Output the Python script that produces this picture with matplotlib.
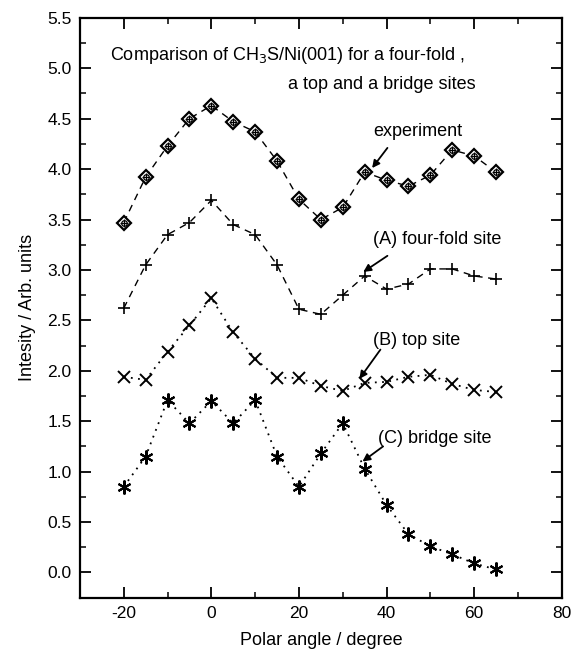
import numpy as np
import matplotlib.pyplot as plt
from matplotlib.ticker import MultipleLocator, FuncFormatter

plt.rcParams['font.family'] = ['Liberation Sans', 'DejaVu Sans']

angle = [-20, -15, -10, -5, 0, 5, 10, 15, 20, 25, 30, 35, 40, 45, 50, 55, 60, 65]
experiment = [3.47, 3.92, 4.23, 4.50, 4.63, 4.47, 4.37, 4.08, 3.70, 3.50, 3.62,
              3.97, 3.89, 3.83, 3.94, 4.19, 4.13, 3.97]
fourfold = [2.62, 3.05, 3.35, 3.47, 3.69, 3.45, 3.35, 3.05, 2.61, 2.56, 2.75,
            2.94, 2.81, 2.86, 3.01, 3.01, 2.94, 2.91]
top = [1.94, 1.91, 2.19, 2.45, 2.72, 2.38, 2.12, 1.93, 1.93, 1.85, 1.80,
       1.88, 1.89, 1.94, 1.96, 1.87, 1.81, 1.79]
bridge = [0.85, 1.15, 1.71, 1.48, 1.70, 1.48, 1.71, 1.15, 0.85, 1.18, 1.48,
          1.03, 0.67, 0.38, 0.26, 0.18, 0.09, 0.03]

fig = plt.figure(figsize=(5.75, 6.59), dpi=100)
ax = fig.add_axes([0.139, 0.093, 0.838, 0.880])

# experiment: diamond with a circled cross inside
ax.plot(angle, experiment, ls=(0, (5, 4)), color='k', lw=1.0)
ax.plot(angle, experiment, ls='none', marker='D', ms=7.5, mfc='white', mec='k', mew=1.6)
ax.plot(angle, experiment, ls='none', marker='o', ms=4, mfc='none', mec='k', mew=0.9)
ax.plot(angle, experiment, ls='none', marker='+', ms=6, mec='k', mew=0.9)
ax.plot(angle, fourfold, ls=(0, (5, 4)), color='k', lw=1.0,
        marker='+', ms=9, mec='k', mew=1.2)
ax.plot(angle, top, ls=(0, (1, 3)), color='k', lw=1.3,
        marker='x', ms=9, mec='k', mew=1.4)
ax.plot(angle, bridge, ls=(0, (1, 3)), color='k', lw=1.3,
        marker=(6, 2, 0), ms=10, mec='k', mew=1.5)

ax.set_xlim(-30, 80)
ax.set_ylim(-0.25, 5.5)
ax.xaxis.set_major_locator(MultipleLocator(20))
ax.xaxis.set_minor_locator(MultipleLocator(10))
ax.xaxis.set_major_formatter(FuncFormatter(lambda v, p: '%d' % v))
ax.yaxis.set_major_locator(MultipleLocator(0.5))
ax.yaxis.set_minor_locator(MultipleLocator(0.25))
ax.yaxis.set_major_formatter(FuncFormatter(lambda v, p: '%.1f' % v))
ax.tick_params(which='both', direction='in', top=True, right=True, labelsize=12.5)
ax.tick_params(which='major', length=8, width=1.3, pad=6)
ax.tick_params(which='minor', length=4, width=1.1)
for s in ax.spines.values():
    s.set_linewidth(1.6)

ax.set_xlabel('Polar angle / degree', fontsize=13, labelpad=8)
ax.set_ylabel('Intesity / Arb. units', fontsize=13, labelpad=8)

ax.text(-23.2, 5.13, 'Comparison of CH$_3$S/Ni(001) for a four-fold ,',
        ha='left', va='center', fontsize=13)
ax.text(17.6, 4.84, 'a top and a bridge sites', ha='left', va='center', fontsize=13)

arrow = dict(arrowstyle='-|>', color='k', lw=1.3, mutation_scale=11, shrinkA=0, shrinkB=0)
ax.text(37.0, 4.37, 'experiment', fontsize=13, va='center')
ax.annotate('', xy=(36.7, 4.01), xytext=(40.2, 4.21), arrowprops=arrow)
ax.text(37.0, 3.30, '(A) four-fold site', fontsize=13, va='center')
ax.annotate('', xy=(34.7, 2.98), xytext=(40.2, 3.14), arrowprops=arrow)
ax.text(37.0, 2.30, '(B) top site', fontsize=13, va='center')
ax.annotate('', xy=(33.8, 1.92), xytext=(38.6, 2.21), arrowprops=arrow)
ax.text(38.1, 1.33, '(C) bridge site', fontsize=13, va='center')
ax.annotate('', xy=(34.5, 1.10), xytext=(39.2, 1.25), arrowprops=arrow)

fig.savefig('out.png', dpi=100)
